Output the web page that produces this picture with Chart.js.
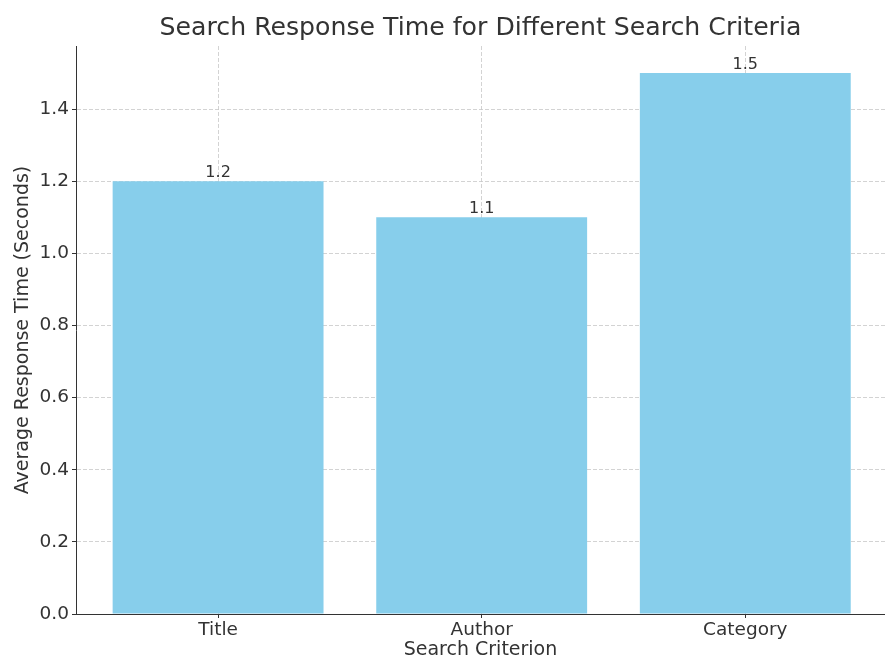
<!DOCTYPE html>
<html>
<head>
<meta charset="utf-8">
<script src="https://cdn.jsdelivr.net/npm/chart.js@4.4.1/dist/chart.umd.min.js"></script>
<style>
  html, body { margin: 0; padding: 0; background: #ffffff; }
  #wrap { width: 885px; height: 661px; }
</style>
</head>
<body>
<div id="wrap"><canvas id="c" width="885" height="661"></canvas></div>
<script>
const categories = ["Title", "Author", "Category"];
const responseTimes = [1.2, 1.1, 1.5];
const yTickValues = [0.0, 0.2, 0.4, 0.6, 0.8, 1.0, 1.2, 1.4];
const titleText = "Search Response Time for Different Search Criteria";
const xAxisLabel = "Search Criterion";
const yAxisLabel = "Average Response Time (Seconds)";

const FONT = "'DejaVu Sans', sans-serif";
const TEXT = "#333333";

const points = categories.map((c, i) => ({ x: i, y: responseTimes[i] }));

const valueLabels = {
  id: 'valueLabels',
  afterDatasetsDraw(chart) {
    const ctx = chart.ctx;
    const meta = chart.getDatasetMeta(0);
    ctx.save();
    ctx.font = "16px " + FONT;
    ctx.fillStyle = TEXT;
    ctx.textAlign = 'center';
    ctx.textBaseline = 'bottom';
    meta.data.forEach((bar, i) => {
      ctx.fillText(String(responseTimes[i]), bar.x, bar.y);
    });
    ctx.restore();
  }
};

// Title centred over the plot area (as in the reference)
const plotTitle = {
  id: 'plotTitle',
  afterDraw(chart) {
    const ctx = chart.ctx;
    const a = chart.chartArea;
    ctx.save();
    ctx.font = "25.2px " + FONT;
    ctx.fillStyle = TEXT;
    ctx.textAlign = 'center';
    ctx.textBaseline = 'middle';
    ctx.fillText(titleText, (a.left + a.right) / 2, 28);
    ctx.restore();
  }
};

new Chart(document.getElementById('c'), {
  type: 'bar',
  data: {
    datasets: [{
      data: points,
      backgroundColor: '#87CEEB',
      borderWidth: 0,
      categoryPercentage: 1.0,
      barPercentage: 0.8
    }]
  },
  options: {
    responsive: false,
    animation: false,
    devicePixelRatio: 1,
    layout: { padding: { left: 0, right: 0, top: 46, bottom: 0 } },
    plugins: {
      legend: { display: false },
      tooltip: { enabled: false },
      title: { display: false }
    },
    scales: {
      x: {
        type: 'linear',
        min: -0.539,
        max: 2.53,
        offset: false,
        z: 1,
        afterBuildTicks(scale) {
          scale.ticks = categories.map((c, i) => ({ value: i }));
        },
        afterFit(scale) { scale.height = 47; },
        ticks: {
          color: TEXT,
          font: { family: FONT, size: 18.5 },
          padding: 1,
          maxRotation: 0,
          autoSkip: false,
          callback: (v) => categories[v]
        },
        grid: {
          offset: false,
          color: 'rgba(200,200,200,0.8)',
          lineWidth: 1,
          drawTicks: true,
          tickLength: 4,
          tickColor: TEXT,
          tickWidth: 1
        },
        border: { display: true, color: TEXT, width: 1, dash: [4, 2] },
        title: {
          display: true,
          text: xAxisLabel,
          color: TEXT,
          font: { family: FONT, size: 19 },
          padding: { top: -4, bottom: 0 }
        }
      },
      y: {
        type: 'linear',
        min: 0,
        max: 1.575,
        z: 1,
        afterBuildTicks(scale) {
          scale.ticks = yTickValues.map(v => ({ value: v }));
        },
        afterFit(scale) { scale.width = 76; },
        ticks: {
          color: TEXT,
          font: { family: FONT, size: 18.5 },
          padding: 3,
          callback: (v) => v.toFixed(1)
        },
        grid: {
          color: 'rgba(200,200,200,0.8)',
          lineWidth: 1,
          drawTicks: true,
          tickLength: 4,
          tickColor: TEXT,
          tickWidth: 1
        },
        border: { display: true, color: TEXT, width: 1, dash: [4, 2] },
        title: {
          display: true,
          text: yAxisLabel,
          color: TEXT,
          font: { family: FONT, size: 19 },
          padding: { top: 11.5, bottom: 0 }
        }
      }
    }
  },
  plugins: [valueLabels, plotTitle]
});
</script>
</body>
</html>
